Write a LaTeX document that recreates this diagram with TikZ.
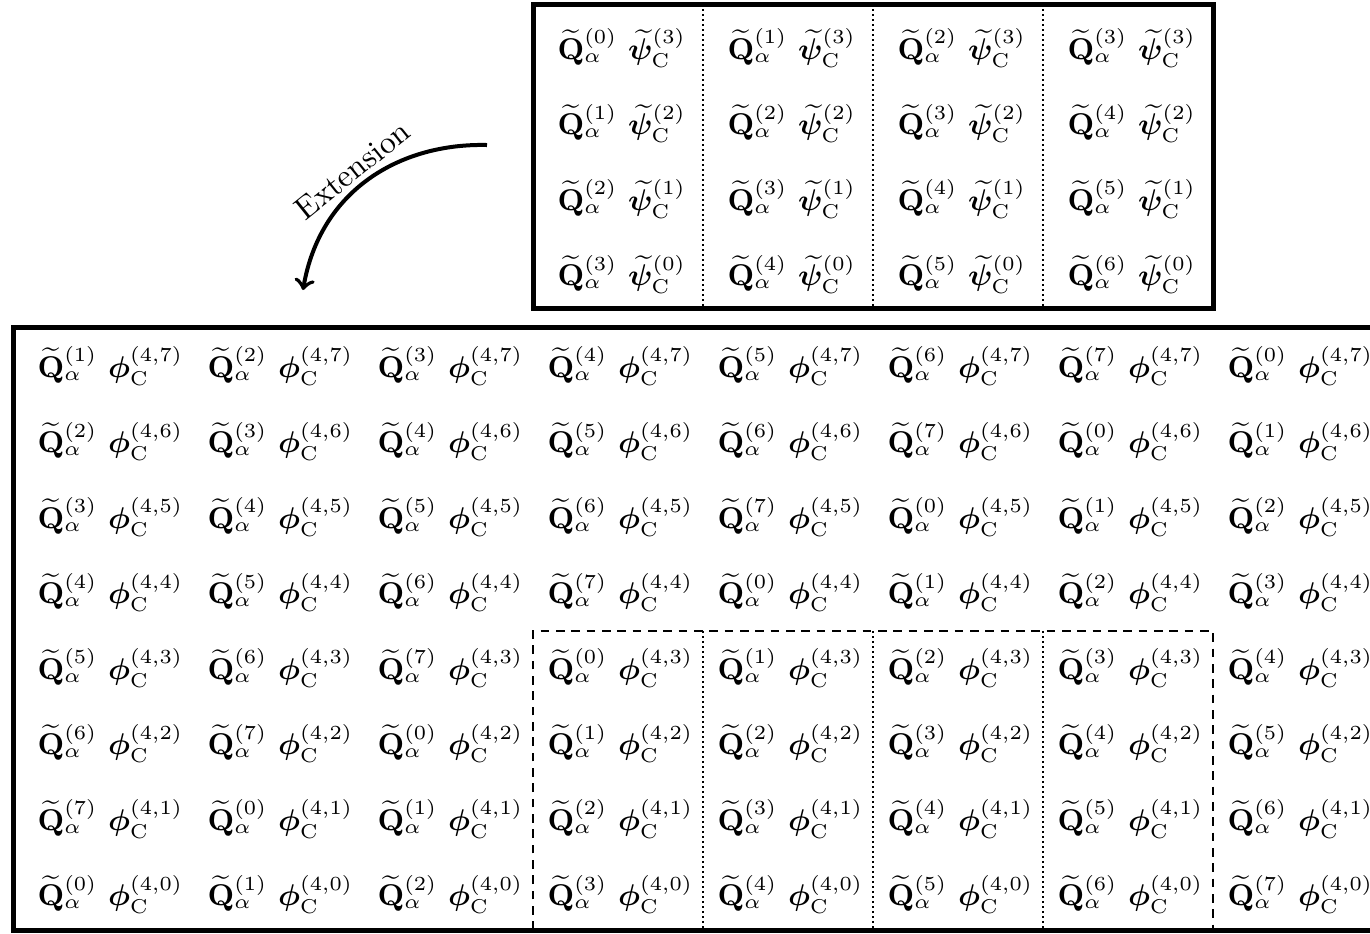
\documentclass[tikz,border=0pt]{standalone}
\usepackage{amsmath,bm}
\begin{document}
\begin{tikzpicture}[x=0.3pt,y=-0.3pt,
  cell/.style={anchor=base west,inner sep=0pt,font=\fontsize{9.2}{11}\selectfont},
  frame/.style={line width=1.5pt},
  sep/.style={line width=0.6pt,dash pattern=on 0.6pt off 0.9pt},
  dashbox/.style={line width=0.8pt,dash pattern=on 2.6pt off 2pt},
  extarrow/.style={line width=1.2pt,->}]
\useasboundingbox (0,0) rectangle (1370,933);
% top box
\draw[frame] (533,4) rectangle (1213,308);
\foreach \k in {1,2,3}{
  \draw[sep] ({533+170*\k},4) -- ({533+170*\k},308);
}
\foreach \r in {0,...,3}{
  \foreach \c in {0,...,3}{
    \pgfmathtruncatemacro\q{\r+\c}
    \pgfmathtruncatemacro\s{3-\r}
    \node[cell] (t-\r-\c) at ({557+170*\c},{59+75.5*\r})
      {$\widetilde{\mathbf{Q}}_{\alpha}^{(\q)}\hspace{3.2pt}\widetilde{\bm{\psi}}_{\mathrm{C}}^{(\s)}$};
  }
}
% bottom box
\draw[frame] (1380,327) -- (13,327) -- (13,930) -- (1380,930);
\draw[dashbox] (533,930) -- (533,631) -- (1213,631) -- (1213,930);
\foreach \k in {1,2,3}{
  \draw[sep] ({533+170*\k},631) -- ({533+170*\k},930);
}
\foreach \r in {0,...,7}{
  \foreach \c in {0,...,7}{
    \pgfmathtruncatemacro\q{mod(\r+\c+1,8)}
    \pgfmathtruncatemacro\s{7-\r}
    \node[cell] (b-\r-\c) at ({37+170*\c},{377+75.5*\r})
      {$\widetilde{\mathbf{Q}}_{\alpha}^{(\q)}\hspace{3.2pt}\bm{\phi}_{\mathrm{C}}^{(4{,}\s)}$};
  }
}
% extension arrow
\coordinate (extS) at (487,145);
\coordinate (extE) at (303,290);
\draw[extarrow] (extS) .. controls (400,143) and (320,190) .. (extE)
  node[pos=0.53,sloped,above=-2pt,font=\fontsize{9.5}{11}\selectfont] (extlabel) {Extension};
\end{tikzpicture}
\end{document}
